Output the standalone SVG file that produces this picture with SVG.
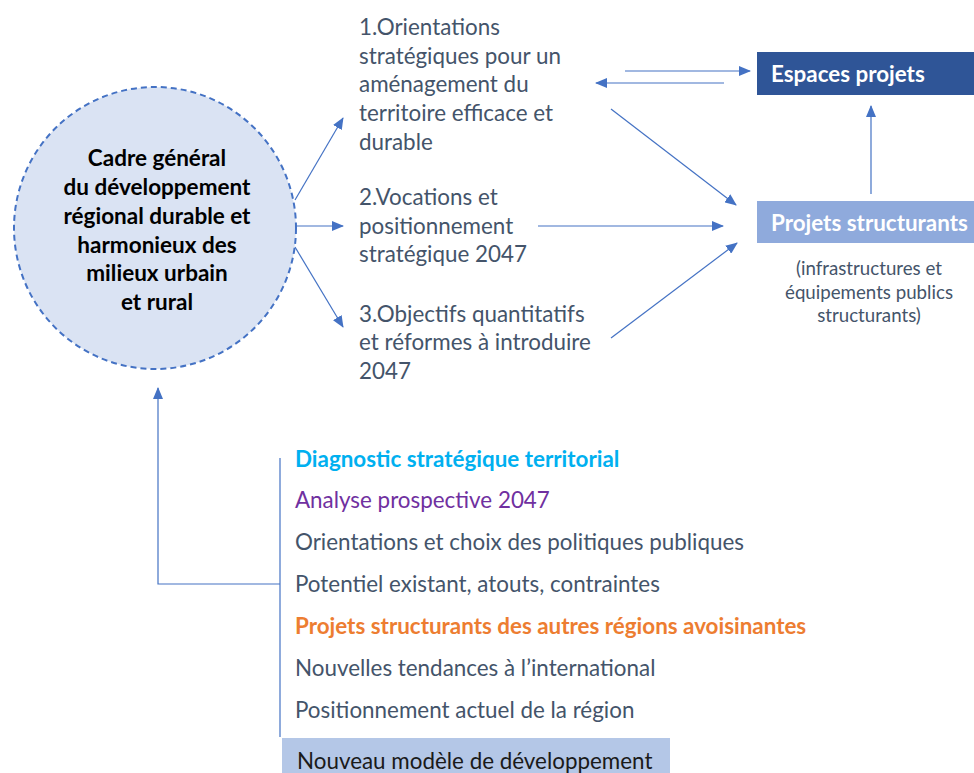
<svg xmlns="http://www.w3.org/2000/svg" width="974" height="773" viewBox="0 0 974 773">
<style>
text{font-family:Lato,"Liberation Sans",sans-serif;font-size:22.4px;fill:#44546A}
.b{font-weight:bold}
.c{fill:#000;font-weight:bold;text-anchor:middle;font-size:22.5px}
.w{fill:#fff;font-weight:bold}
.s{font-size:18.7px;text-anchor:middle}
.ln{stroke:#4472C4;stroke-width:1.2;fill:none}
</style>
<defs>
<marker id="ah" markerWidth="12" markerHeight="10" refX="11" refY="5" orient="auto" markerUnits="userSpaceOnUse">
<path d="M0,0 L12,5 L0,10 Z" fill="#4472C4"/>
</marker>
</defs>
<rect width="974" height="773" fill="#fff"/>
<g id="circle">
<circle cx="155" cy="228" r="141" fill="#DAE3F3" stroke="#4472C4" stroke-width="2" stroke-dasharray="6,4"/>
<text class="c" x="157" y="166">Cadre général</text>
<text class="c" x="157" y="195">du développement</text>
<text class="c" x="157" y="224">régional durable et</text>
<text class="c" x="157" y="253">harmonieux des</text>
<text class="c" x="157" y="281">milieux urbain</text>
<text class="c" x="157" y="310">et rural</text>
</g>
<g id="n1">
<text x="359" y="34.5">1.Orientations</text>
<text x="359" y="63.5">stratégiques pour un</text>
<text x="359" y="91.5">aménagement du</text>
<text x="359" y="120.5">territoire efficace et</text>
<text x="359" y="149.5">durable</text>
</g>
<g id="n2">
<text x="359" y="204.5">2.Vocations et</text>
<text x="359" y="233.5">positionnement</text>
<text x="359" y="261.5">stratégique 2047</text>
</g>
<g id="n3">
<text x="359" y="321.5">3.Objectifs quantitatifs</text>
<text x="359" y="349.5">et réformes à introduire</text>
<text x="359" y="378.5">2047</text>
</g>
<g id="espaces">
<rect x="757" y="52" width="217" height="43" fill="#2F5597"/>
<text class="w" x="771" y="81.5">Espaces projets</text>
</g>
<g id="projets">
<rect x="757" y="201" width="217" height="42" fill="#8FAADC"/>
<text class="w" x="771" y="230.5">Projets structurants</text>
<text class="s" x="869" y="275">(infrastructures et</text>
<text class="s" x="869" y="299">équipements publics</text>
<text class="s" x="869" y="322">structurants)</text>
</g>
<g id="list">
<text class="b" x="295" y="466.5" style="fill:#00B0F0">Diagnostic stratégique territorial</text>
<text x="295" y="507.5" style="fill:#7030A0">Analyse prospective 2047</text>
<text x="295" y="549.5">Orientations et choix des politiques publiques</text>
<text x="295" y="591.5">Potentiel existant, atouts, contraintes</text>
<text class="b" x="295" y="633.5" style="fill:#ED7D31">Projets structurants des autres régions avoisinantes</text>
<text x="295" y="675.5">Nouvelles tendances à l’international</text>
<text x="295" y="717.5">Positionnement actuel de la région</text>
</g>
<g id="modele">
<rect x="282" y="738" width="388" height="35" fill="#B4C7E7"/>
<text x="297" y="768.5" style="fill:#1a1a1a">Nouveau modèle de développement</text>
</g>
<g id="connectors">
<line class="ln" x1="295" y1="200" x2="343" y2="118" marker-end="url(#ah)"/>
<line class="ln" x1="296" y1="226" x2="343" y2="226" marker-end="url(#ah)"/>
<line class="ln" x1="295" y1="247" x2="343" y2="327" marker-end="url(#ah)"/>
<line class="ln" x1="625" y1="71" x2="750" y2="71" marker-end="url(#ah)"/>
<line class="ln" x1="724" y1="83" x2="596" y2="83" marker-end="url(#ah)"/>
<line class="ln" x1="611" y1="109" x2="736" y2="205" marker-end="url(#ah)"/>
<line class="ln" x1="538" y1="226" x2="723" y2="226" marker-end="url(#ah)"/>
<line class="ln" x1="611" y1="338" x2="737" y2="243" marker-end="url(#ah)"/>
<line class="ln" x1="871" y1="194" x2="871" y2="106" marker-end="url(#ah)"/>
<polyline class="ln" points="280,458 280,737"/>
<polyline class="ln" points="280,584 158,584 158,388" marker-end="url(#ah)"/>
</g>
</svg>
